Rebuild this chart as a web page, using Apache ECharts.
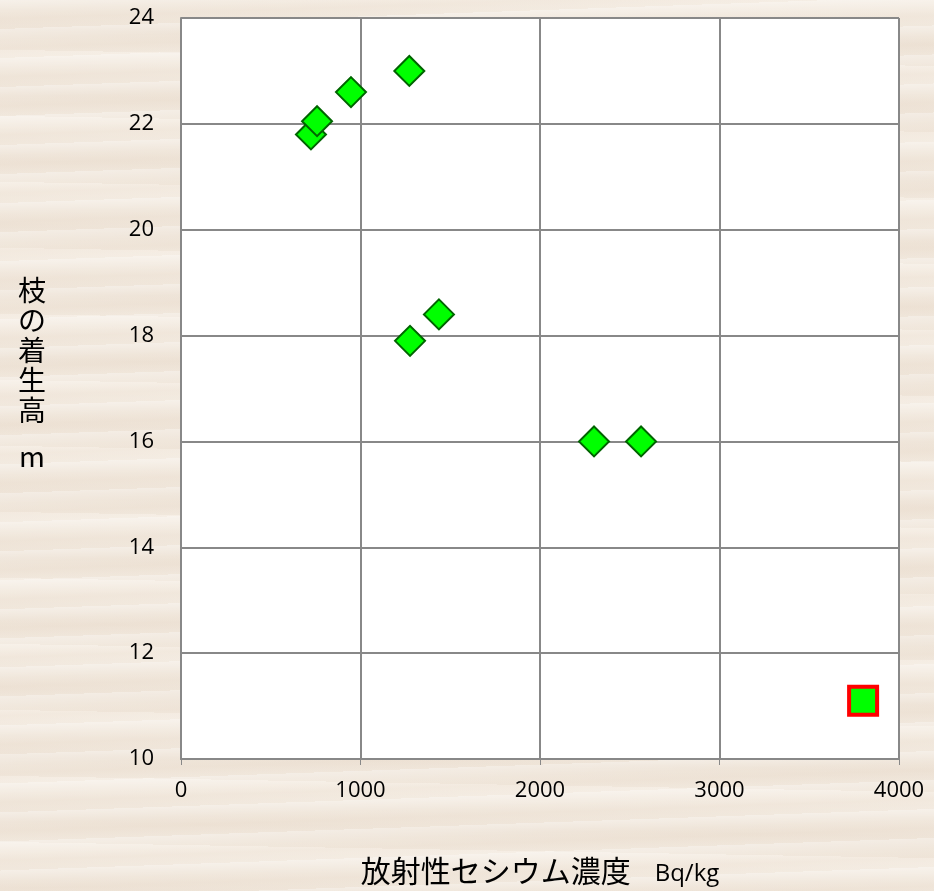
<!DOCTYPE html>
<html>
<head>
<meta charset="utf-8">
<script src="https://cdn.jsdelivr.net/npm/echarts@6/dist/echarts.min.js"></script>
<style>
html, body {
    margin: 0;
    padding: 0;
}
body {
    /* 木目っぽい背景 */
    background-color: #f1e8dd;
    background-image:
        repeating-linear-gradient(178deg, rgba(255,255,255,0.3) 0px, rgba(255,255,255,0) 11px, rgba(225,205,185,0.14) 19px, rgba(255,255,255,0) 29px),
        repeating-linear-gradient(181deg, rgba(255,251,246,0.35) 0px, rgba(255,255,255,0) 27px, rgba(220,200,180,0.12) 45px, rgba(255,255,255,0) 66px);
}
#main {
    width: 934px;
    height: 891px;
}
</style>
</head>
<body>
<div id="main"></div>
<script>
// 放射性セシウム濃度 (Bq/kg) と 枝の着生高 (m)
const cesium = [724, 758, 947, 1272, 1276, 1437, 2301, 2563];
const height = [21.8, 22.05, 22.6, 23.0, 17.9, 18.4, 16.0, 16.0];
// 強調表示の1点
const cesiumMark = [3800];
const heightMark = [11.1];

const xTicks = [0, 1000, 2000, 3000, 4000];
const yTicks = [10, 12, 14, 16, 18, 20, 22, 24];

const chart = echarts.init(document.getElementById('main'));

const labelFont = '"Open Sans", "Noto Sans CJK JP", sans-serif';
const jpFont = '"Noto Sans CJK JP", sans-serif';

const option = {
    backgroundColor: 'transparent',
    animation: false,
    grid: {
        left: 181,
        right: 35,
        top: 18,
        bottom: 131,
        show: true,
        backgroundColor: '#ffffff',
        borderWidth: 0
    },
    xAxis: {
        type: 'value',
        min: xTicks[0],
        max: xTicks[xTicks.length - 1],
        interval: 1000,
        name: '{a|放射性セシウム濃度}{b|Bq/kg}',
        nameLocation: 'middle',
        nameGap: 97,
        nameTextStyle: {
            rich: {
                a: { fontSize: 30, color: '#000', fontFamily: jpFont },
                b: { fontSize: 24, color: '#000', fontFamily: labelFont, padding: [6, 0, 0, 24] }
            }
        },
        axisLine: { lineStyle: { color: '#888', width: 2 } },
        axisTick: { show: true, length: 6, lineStyle: { color: '#888' } },
        axisLabel: {
            color: '#000', fontSize: 22, margin: 21, fontFamily: labelFont,
            formatter: v => String(v)
        },
        splitLine: { lineStyle: { color: '#888', width: 2 } }
    },
    yAxis: {
        type: 'value',
        min: yTicks[0],
        max: yTicks[yTicks.length - 1],
        interval: 2,
        name: '枝\nの\n着\n生\n高\n{s| }\nm',
        nameLocation: 'middle',
        nameRotate: 0,
        nameGap: 149,
        nameTextStyle: {
            fontSize: 28,
            lineHeight: 30,
            color: '#000',
            fontFamily: jpFont,
            align: 'center',
            padding: [0, 0, 30, 0],
            rich: {
                s: { fontSize: 10, lineHeight: 16 }
            }
        },
        axisLine: { show: true, lineStyle: { color: '#888', width: 2 } },
        axisTick: { show: false },
        axisLabel: {
            color: '#000', fontSize: 22, margin: 27, fontFamily: labelFont,
            formatter: v => String(v)
        },
        splitLine: { lineStyle: { color: '#888', width: 2 } }
    },
    series: [
        {
            name: '枝の着生高',
            type: 'scatter',
            symbol: 'diamond',
            symbolSize: [30, 30],
            itemStyle: {
                color: '#00ff00',
                borderColor: '#006400',
                borderWidth: 2,
                opacity: 1
            },
            data: cesium.map((x, i) => [x, height[i]])
        },
        {
            name: '強調',
            type: 'scatter',
            symbol: 'rect',
            symbolSize: 28,
            itemStyle: {
                color: '#00ff00',
                borderColor: '#ff0000',
                borderWidth: 4,
                opacity: 1
            },
            data: cesiumMark.map((x, i) => [x, heightMark[i]])
        }
    ]
};

chart.setOption(option);
</script>
</body>
</html>
